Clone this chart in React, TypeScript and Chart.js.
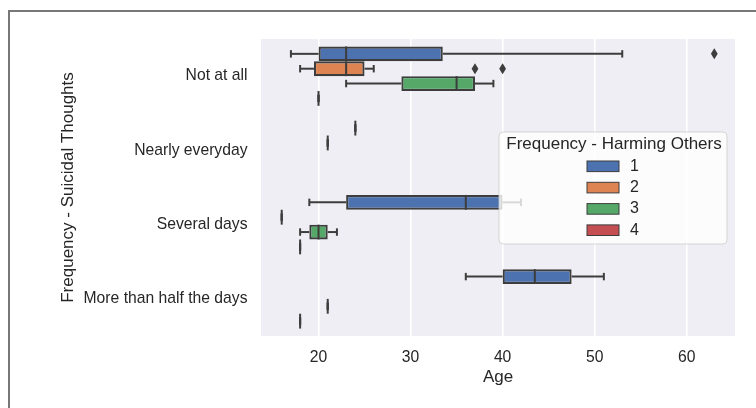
import React, { useEffect, useRef } from 'react';
import { Chart, registerables } from 'chart.js';

Chart.register(...registerables);

// ---------------- data ----------------
const categories = ['Not at all', 'Nearly everyday', 'Several days', 'More than half the days'];
const hueLabels = ['1', '2', '3', '4'];
const hueColors = ['#4c72b0', '#dd8452', '#55a868', '#c44e52'];
const ageTicks = [20, 30, 40, 50, 60];
const ageMin = 13.75;
const ageMax = 65.25;

// [whisker low, Q1, median, Q3, whisker high] per category (null = no data)
const hue1Stats = [
  [17, 20, 23, 33.5, 53],
  [24, 24, 24, 24, 24],
  [19, 23, 36, 40, 42],
  [36, 40, 43.5, 47.5, 51],
];
const hue2Stats = [
  [18, 19.5, 23, 25, 26],
  [21, 21, 21, 21, 21],
  [16, 16, 16, 16, 16],
  null,
];
const hue3Stats = [
  [23, 29, 35, 37, 39],
  null,
  [18, 19, 20, 21, 22],
  [21, 21, 21, 21, 21],
];
const hue4Stats = [
  [20, 20, 20, 20, 20],
  null,
  [18, 18, 18, 18, 18],
  [18, 18, 18, 18, 18],
];

const hue1Outliers = [[63], [], [], []];
const hue2Outliers = [[37, 40], [], [], []];
const hue3Outliers = [[], [], [], []];
const hue4Outliers = [[], [], [], []];

const allStats = [hue1Stats, hue2Stats, hue3Stats, hue4Stats];
const allOutliers = [hue1Outliers, hue2Outliers, hue3Outliers, hue4Outliers];

// ---------------- style ----------------
const FONT = 'Liberation Sans, Arial, Helvetica, sans-serif';
const TEXT = '#262626';
const LINE = '#3d3d3d';
const BG = '#eeeef4';

const boxPlugin = {
  id: 'boxWhiskers',
  beforeDraw(chart: any) {
    const { ctx, chartArea: a } = chart;
    ctx.save();
    ctx.fillStyle = BG;
    ctx.fillRect(a.left, a.top, a.right - a.left, a.bottom - a.top);
    ctx.restore();
  },
  afterDatasetsDraw(chart: any) {
    const ctx = chart.ctx;
    const xs = chart.scales.x;
    const px = (v: number) => xs.getPixelForValue(v);
    const line = (x1: number, y1: number, x2: number, y2: number) => {
      ctx.beginPath();
      ctx.moveTo(x1, y1);
      ctx.lineTo(x2, y2);
      ctx.stroke();
    };
    ctx.save();
    ctx.strokeStyle = LINE;
    ctx.fillStyle = LINE;
    ctx.lineWidth = 2;
    ctx.lineCap = 'butt';
    allStats.forEach((statsArr, di) => {
      const meta = chart.getDatasetMeta(di);
      statsArr.forEach((s: any, i: number) => {
        if (!s) return;
        const el = meta.data[i];
        const { y, height } = el.getProps(['y', 'height'], true);
        const h = Math.abs(height);
        // whiskers
        line(px(s[0]), y, px(s[1]), y);
        line(px(s[3]), y, px(s[4]), y);
        // caps
        line(px(s[0]), y - h / 4, px(s[0]), y + h / 4);
        line(px(s[4]), y - h / 4, px(s[4]), y + h / 4);
        // median
        line(px(s[2]), y - h / 2, px(s[2]), y + h / 2);
        // outliers (thin diamonds)
        allOutliers[di][i].forEach((v: number) => {
          const cx = px(v);
          ctx.beginPath();
          ctx.moveTo(cx, y - 5.5);
          ctx.lineTo(cx + 3.4, y);
          ctx.lineTo(cx, y + 5.5);
          ctx.lineTo(cx - 3.4, y);
          ctx.closePath();
          ctx.fill();
        });
      });
    });
    ctx.restore();
  },
  afterDraw(chart: any) {
    const { ctx, chartArea: a } = chart;
    const left = a.right - 236;
    const top = a.top + 93;
    const w = 228;
    const h = 112;
    ctx.save();
    ctx.beginPath();
    if (ctx.roundRect) ctx.roundRect(left, top, w, h, 4);
    else ctx.rect(left, top, w, h);
    ctx.fillStyle = 'rgba(255,255,255,0.8)';
    ctx.fill();
    ctx.strokeStyle = 'rgba(204,204,204,0.8)';
    ctx.lineWidth = 1;
    ctx.stroke();

    ctx.fillStyle = TEXT;
    ctx.textBaseline = 'middle';
    ctx.textAlign = 'center';
    ctx.font = `17px ${FONT}`;
    ctx.fillText('Frequency - Harming Others', left + w / 2 + 1, top + 12.5);

    ctx.font = `16px ${FONT}`;
    ctx.textAlign = 'left';
    hueLabels.forEach((lab, i) => {
      const cy = top + 34.3 + i * 21.3;
      ctx.fillStyle = hueColors[i];
      ctx.fillRect(left + 88, cy - 5.3, 32, 10.6);
      ctx.strokeStyle = LINE;
      ctx.lineWidth = 1;
      ctx.strokeRect(left + 88, cy - 5.3, 32, 10.6);
      ctx.fillStyle = TEXT;
      ctx.fillText(lab, left + 131, cy);
    });
    ctx.restore();
  },
};

export default function App() {
  const ref = useRef<HTMLCanvasElement | null>(null);

  useEffect(() => {
    document.body.style.overflow = 'hidden';
    if (!ref.current) return;
    const datasets = allStats.map((stats, di) => ({
      label: hueLabels[di],
      data: stats.map((s: any) => (s ? [s[1], s[3]] : null)),
      backgroundColor: hueColors[di],
      borderColor: LINE,
      borderWidth: 2.2,
      borderSkipped: false,
      categoryPercentage: 0.8,
      barPercentage: 1.0,
    }));
    const chart = new Chart(ref.current, {
      type: 'bar',
      data: { labels: categories, datasets: datasets as any },
      options: {
        animation: false,
        responsive: false,
        devicePixelRatio: 1,
        indexAxis: 'y',
        layout: { padding: { left: 57.8, top: 39, right: 21, bottom: 20.5 } },
        plugins: { legend: { display: false }, tooltip: { enabled: false } },
        scales: {
          x: {
            type: 'linear',
            min: ageMin,
            max: ageMax,
            afterBuildTicks: (scale: any) => {
              scale.ticks = ageTicks.map((v) => ({ value: v }));
            },
            afterFit: (scale: any) => {
              scale.height = 51.5;
            },
            grid: { color: '#ffffff', lineWidth: 1.6, drawTicks: false },
            border: { display: false },
            ticks: { color: TEXT, font: { family: FONT, size: 15.7 }, padding: 12.5 },
            title: {
              display: true,
              text: 'Age',
              color: TEXT,
              font: { family: FONT, size: 17 },
              padding: { top: 0, bottom: 0 },
            },
          },
          y: {
            type: 'category',
            afterFit: (scale: any) => {
              scale.width = 203.2;
            },
            grid: { display: false, drawTicks: false },
            border: { display: false },
            ticks: { color: TEXT, font: { family: FONT, size: 15.7 }, padding: 13.5 },
            title: {
              display: true,
              text: 'Frequency - Suicidal Thoughts',
              color: TEXT,
              font: { family: FONT, size: 17 },
              padding: { top: 0, bottom: 0 },
            },
          },
        },
      },
      plugins: [boxPlugin],
    } as any);
    return () => chart.destroy();
  }, []);

  return (
    <>
      <div
        style={{
          position: 'absolute',
          left: 8,
          top: 10,
          width: 746,
          height: 396,
          borderLeft: '2px solid #777',
          borderTop: '2px solid #777',
          boxSizing: 'content-box',
        }}
      />
      <canvas
        ref={ref}
        width={756}
        height={408}
        style={{ position: 'absolute', left: 0, top: 0, width: 756, height: 408 }}
      />
    </>
  );
}
